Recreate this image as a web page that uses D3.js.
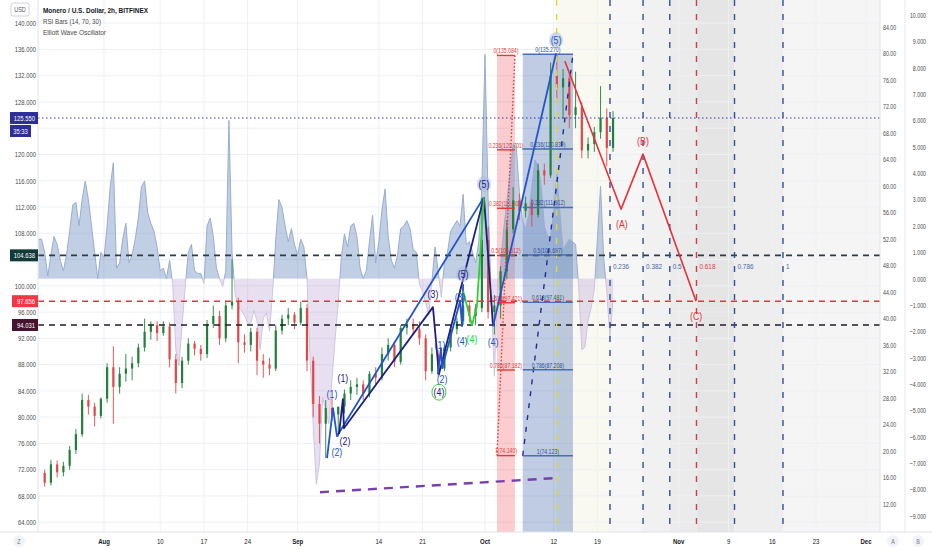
<!DOCTYPE html>
<html><head><meta charset="utf-8">
<script src="https://cdn.jsdelivr.net/npm/d3@7"></script>
<style>
html,body{margin:0;padding:0;background:#fff;}
svg{display:block;font-family:"Liberation Sans",Arial,sans-serif;}
</style></head><body>
<svg id="c" width="932" height="550"></svg>
<script>
// ---------------- DATA ----------------
const candles = [
["2020-07-22",71.5,72.0,69.4,70.0],["2020-07-23",70.0,73.5,69.6,72.8],["2020-07-24",72.8,73.4,70.8,71.6],
["2020-07-25",71.6,73.2,71.0,72.6],["2020-07-26",72.6,75.6,72.0,75.0],["2020-07-27",75.0,78.2,74.4,77.4],
["2020-07-28",77.4,83.6,77.0,82.6],["2020-07-29",82.6,83.4,80.4,81.6],["2020-07-30",81.6,82.2,78.6,80.2],
["2020-07-31",80.2,83.0,79.8,82.8],["2020-08-01",82.8,88.2,82.2,87.6],["2020-08-02",87.6,90.8,79.0,84.6],
["2020-08-03",84.6,87.6,83.6,86.6],["2020-08-04",86.6,89.6,85.4,87.4],["2020-08-05",87.4,89.2,85.6,88.2],
["2020-08-06",88.2,91.2,87.6,90.6],["2020-08-07",90.6,95.0,90.0,93.0],["2020-08-08",93.0,94.6,91.8,94.0],
["2020-08-09",94.0,94.6,91.6,92.8],["2020-08-10",92.8,94.6,92.4,93.8],["2020-08-11",93.8,94.4,87.6,88.8],
["2020-08-12",88.8,89.6,83.6,85.2],["2020-08-13",85.2,89.2,84.4,88.6],["2020-08-14",88.6,92.0,88.0,91.2],
["2020-08-15",91.2,91.6,89.4,90.4],["2020-08-16",90.4,91.0,88.6,89.6],["2020-08-17",89.6,94.8,89.0,94.2],
["2020-08-18",94.2,97.0,93.6,95.4],["2020-08-19",95.4,96.2,91.0,92.0],["2020-08-20",92.0,97.6,91.4,97.0],
["2020-08-21",97.0,104.0,96.4,97.6],["2020-08-22",97.6,98.2,88.2,91.4],["2020-08-23",91.4,92.6,89.8,91.0],
["2020-08-24",91.0,93.6,90.0,93.0],["2020-08-25",93.0,93.6,86.4,88.6],["2020-08-26",88.6,89.6,86.0,88.0],
["2020-08-27",88.0,89.0,86.4,87.4],["2020-08-28",87.4,94.0,87.0,93.2],["2020-08-29",93.2,95.6,92.6,95.0],
["2020-08-30",95.0,96.6,94.0,95.6],["2020-08-31",95.6,96.0,93.4,94.4],["2020-09-01",94.4,97.6,94.0,96.6],
["2020-09-02",96.6,97.2,87.0,88.6],["2020-09-03",88.6,89.2,80.0,82.0],["2020-09-04",82.0,83.2,76.0,79.0],
["2020-09-05",79.0,82.6,73.8,81.4],["2020-09-06",81.4,83.0,79.4,80.4],["2020-09-07",80.4,81.2,77.0,81.6],
["2020-09-08",81.6,84.2,80.6,83.6],["2020-09-09",83.6,85.6,82.6,84.6],["2020-09-10",84.6,86.0,83.4,85.0],
["2020-09-11",85.0,85.6,82.6,83.6],["2020-09-12",83.6,87.0,83.0,86.6],["2020-09-13",86.6,87.6,85.0,86.0],
["2020-09-14",86.0,90.6,85.6,89.6],["2020-09-15",89.6,92.0,88.6,91.0],["2020-09-16",91.0,91.6,87.6,88.4],
["2020-09-17",88.4,94.0,88.0,93.6],["2020-09-18",93.6,95.0,92.6,94.2],["2020-09-19",94.2,95.0,92.6,93.4],
["2020-09-20",93.4,94.6,91.0,92.0],["2020-09-21",92.0,92.6,85.6,87.0],["2020-09-22",87.0,90.6,86.6,89.6],
["2020-09-23",89.6,90.2,86.2,87.4],["2020-09-24",87.4,91.0,87.0,90.6],["2020-09-25",90.6,94.0,90.0,93.4],
["2020-09-26",93.4,95.2,92.6,94.6],["2020-09-27",94.6,98.2,94.0,97.0],["2020-09-28",97.0,97.6,94.4,95.4],
["2020-09-29",95.4,97.2,94.0,96.6],["2020-09-30",96.6,113.4,96.0,107.0],["2020-10-01",107.0,109.0,95.0,96.0],
["2020-10-02",96.0,98.6,92.6,97.0],["2020-10-03",97.0,103.0,95.0,102.2],["2020-10-04",102.2,110.0,101.0,108.6],
["2020-10-05",108.6,115.0,108.0,113.0],["2020-10-06",113.0,114.0,110.0,111.4],["2020-10-07",111.4,113.6,110.4,112.6],
["2020-10-08",112.6,113.2,109.0,110.8],["2020-10-09",110.8,118.6,110.4,117.6],["2020-10-10",117.6,118.6,115.4,116.8],
["2020-10-11",116.8,134.0,116.4,132.0],["2020-10-12",132.0,135.3,128.4,130.2],["2020-10-13",130.2,133.0,125.4,131.6],
["2020-10-14",131.6,132.2,124.0,126.0],["2020-10-15",126.0,132.6,124.0,127.2],["2020-10-16",127.2,128.0,119.4,120.6],
["2020-10-17",120.6,122.6,119.4,121.6],["2020-10-18",121.6,124.2,120.4,123.4],["2020-10-19",123.4,130.4,122.4,125.6],
["2020-10-20",125.6,127.0,118.2,121.0],["2020-10-21",121.0,126.6,120.4,125.55]
];

// Elliott Wave Oscillator, sampled every 12 hours from ewoStart
const ewoStart = "2020-07-21T12:00";
const ewoStepHours = 12;
const ewoValues = [
1.5,1.5,1.0,0.1,0.9,1.6,1.3,0.7,0.3,0.9,1.8,2.8,2.9,2.0,3.0,3.7,3.0,2.0,1.0,0.0,1.0,
0.8,2.0,3.5,4.4,0.4,0.6,1.5,2.1,0.6,0.9,1.5,2.3,3.5,3.7,2.5,2.1,1.8,1.2,0.3,0.4,
0.0,0.7,-0.2,-2.7,-3.3,-1.8,-0.3,1.0,1.3,0.3,0.2,0.2,-0.2,2.0,2.3,1.6,0.4,0.0,-0.3,0.3,
6.0,1.0,-0.6,-1.1,-1.2,-1.4,-1.7,-1.7,-1.2,-1.6,-2.7,-1.5,-1.3,-2.0,-0.5,1.5,3.0,2.7,2.0,1.4,
1.9,1.3,0.9,1.5,1.2,0.0,-3.1,-5.6,-7.8,-7.0,-4.5,-5.0,-5.5,-3.8,-2.3,-0.9,0.8,1.7,1.2,2.0,
2.1,1.6,0.4,0.0,0.3,1.4,2.4,0.6,1.4,2.6,3.4,1.6,0.7,0.4,0.9,1.9,2.0,2.2,1.9,1.1,
1.0,-0.2,-0.5,-0.9,-1.4,-0.1,1.2,0.3,-0.7,0.6,1.0,1.8,2.0,2.2,2.0,3.2,1.3,1.4,1.0,0.6,
1.4,3.5,8.5,3.0,-0.8,-3.7,-0.6,0.5,1.9,2.9,4.0,5.1,5.0,3.3,2.2,1.9,2.4,3.5,4.5,4.3,
3.5,2.0,1.6,1.6,2.5,4.0,2.5,1.1,1.3,1.5,1.4,1.3,-0.3,-2.7,-2.6,-1.6,-1.1,-0.4,1.5,3.5,
0.8,-0.5,-2.2,-0.8
];

const priceTicks = [140,136,132,128,124,120,116,112,108,104,100,96,92,88,84,80,76,72,68,64];
const axisATicks = [84,80,76,72,68,64,60,56,52,48,44,40,36,32,28,24,20,16,12];
const axisBTicks = [10,9,8,7,6,5,4,3,2,1,0,-1,-2,-3,-4,-5,-6,-7,-8,-9];
const timeTicks = [
["2020-08-01","Aug",true],["2020-08-10","10",false],["2020-08-17","17",false],["2020-08-24","24",false],
["2020-09-01","Sep",true],["2020-09-14","14",false],["2020-09-21","21",false],["2020-10-01","Oct",true],
["2020-10-12","12",false],["2020-10-19","19",false],["2020-11-01","Nov",true],["2020-11-09","9",false],
["2020-11-16","16",false],["2020-11-23","23",false],["2020-12-01","Dec",true]
];

const lastPrice = 125.55;
const countdown = "35:33";
const levelSupport = 104.638, levelRed = 97.656, levelDark = 94.031;

const fibRatios = [0,0.236,0.382,0.5,0.618,0.786,1];
const redFib = {t1:"2020-10-02T22:00", p1:74.140, t2:"2020-10-05T19:00", p2:135.084};
const blueFib = {t1:"2020-10-07T01:00", p1:74.123, t2:"2020-10-15T02:00", p2:135.270};
const fibTimeStart = "2020-10-12T11:00", fibTimeEnd = "2020-11-17T17:00";
const fibTimeLabelPrice = 103.0;

const waveBlueA = [["2020-09-05T17:00",73.75],["2020-09-06T16:00",81.36],["2020-09-07T07:00",77.1],["2020-09-30T20:00",113.5]];
const waveNavyDown = [["2020-09-30T20:00",113.5],["2020-10-02T07:00",93.85]];
const waveBlueUp = [["2020-10-02T07:00",93.85],["2020-10-12T09:00",135.4]];
const waveNavy = [["2020-09-07T15:00",77.4],["2020-09-08T06:00",82.74],["2020-09-08T10:00",78.3],["2020-09-22T16:00",96.75],["2020-09-23T15:00",86.54],["2020-09-30T20:00",113.5]];
const waveBlueSmall = [["2020-09-23T11:00",86.54],["2020-09-23T23:00",90.5],["2020-09-24T03:00",87.46],["2020-09-27T00:00",97.66],["2020-09-27T08:00",93.85],["2020-09-27T12:00",100.25]];
const waveGreen = [["2020-09-27T12:00",99.2],["2020-09-28T22:00",94.0],["2020-09-29T17:00",96.9],["2020-09-30T20:00",113.5]];
const waveRed = [["2020-10-13T19:00",134.2],["2020-10-22T19:00",111.67],["2020-10-26T07:00",120.05],["2020-11-03T19:00",97.656]];
const purpleTrend = [["2020-09-04T14:00",68.57],["2020-10-11T21:00",70.7]];

// [text, colourKey, time, price, marker]
const waveLabels = [
["(1)","blue","2020-09-06T12:00",83.5,""],["(2)","blue","2020-09-07T07:00",74.66,""],
["(1)","navy","2020-09-08T06:00",85.93,""],["(2)","navy","2020-09-08T14:00",76.34,""],
["(3)","navy","2020-09-22T16:00",98.73,""],["(4)","navy","2020-09-23T15:00",83.8,"ring"],
["(1)","blue","2020-09-23T19:00",90.96,""],["(2)","blue","2020-09-24T03:00",85.78,""],
["(3)","blue","2020-09-27T00:00",98.27,""],["(5)","navy","2020-09-27T12:00",101.77,"dot"],
["(4)","blue","2020-09-27T08:00",91.57,""],["(4)","green","2020-09-28T22:00",91.87,""],
["(5)","navy","2020-09-30T20:00",115.48,"dot"],["(4)","blue","2020-10-02T07:00",91.42,""],
["(5)","blue","2020-10-12T09:00",137.4,"dot"],
["(A)","red","2020-10-22T22:00",109.39,""],["(B)","red","2020-10-26T07:00",122.03,""],["(C)","red","2020-11-03T19:00",95.38,""]
];

// ---------------- SETUP ----------------
const P = s => new Date(s.length === 10 ? s + "T00:00:00Z" : s + ":00Z");
const L = 38, R = 880, TOP = 0, BOT = 532;
const x = d3.scaleUtc().domain([new Date(Date.UTC(2020,6,21,10,24)), new Date(Date.UTC(2020,11,3,5,48))]).range([L,R]);
const y = d3.scaleLinear().domain([62.51,143.52]).range([BOT,TOP]);
const yA = d3.scaleLinear().domain([7.77,88.08]).range([BOT,TOP]);
const yB = d3.scaleLinear().domain([-9.61,10.57]).range([BOT,TOP]);

const C = {blue:"#2356cc", navy:"#1e2080", green:"#2fd12f", red:"#e8313a"};
const svg = d3.select("#c");
const defs = svg.append("defs");
defs.append("clipPath").attr("id","plot").append("rect").attr("x",L).attr("y",TOP).attr("width",R-L).attr("height",BOT-TOP);
defs.append("clipPath").attr("id","pos").append("rect").attr("x",L).attr("y",TOP).attr("width",R-L).attr("height",yB(0)-TOP);
defs.append("clipPath").attr("id","neg").append("rect").attr("x",L).attr("y",yB(0)).attr("width",R-L).attr("height",BOT-yB(0));

function T(parent, tx, ty, str, o={}) {
  const t = parent.append("text").attr("transform",`translate(${tx},${ty}) scale(${o.sx ?? 0.78},1)`)
    .attr("text-anchor", o.anchor || "start").attr("dominant-baseline","central")
    .attr("font-size", o.size || 7.5).attr("fill", o.fill || "#131722").text(str);
  if (o.weight) t.attr("font-weight", o.weight);
  return t;
}

svg.append("rect").attr("width",932).attr("height",550).attr("fill","#fff");
const pg = svg.append("g").attr("clip-path","url(#plot)");

// fib time zone bands
const ft0 = P(fibTimeStart), ft1 = P(fibTimeEnd);
const ftAt = r => new Date(+ft0 + r*(ft1-ft0));
const bandColors = ["#f9f9f2","#f6f6f6","#f1f1f1","#ebebeb","#e5e5e5","#eeeeee","#f5f5f5"];
const bandEdges = fibRatios.map(ftAt).concat([x.domain()[1]]);
for (let i=0;i<bandEdges.length-1;i++){
  pg.append("rect").attr("x",x(bandEdges[i])).attr("y",TOP).attr("width",x(bandEdges[i+1])-x(bandEdges[i])).attr("height",BOT-TOP).attr("fill",bandColors[i]);
}

// grid
pg.selectAll(".hg").data(priceTicks).join("line").attr("x1",L).attr("x2",R).attr("y1",d=>y(d)).attr("y2",d=>y(d)).attr("stroke","#eef0f5").attr("stroke-width",1);
pg.selectAll(".vg").data(timeTicks).join("line").attr("x1",d=>x(P(d[0]))).attr("x2",d=>x(P(d[0]))).attr("y1",TOP).attr("y2",BOT).attr("stroke","#eef0f5").attr("stroke-width",1);

// fib boxes
function fibBox(f, fill){
  const x1 = x(P(f.t1)), x2 = x(P(f.t2));
  pg.append("rect").attr("x",x1).attr("y",y(f.p2)).attr("width",x2-x1).attr("height",BOT-y(f.p2)).attr("fill",fill);
}
fibBox(redFib,"rgba(242,70,80,0.27)");
fibBox(blueFib,"rgba(60,100,170,0.33)");

// EWO
const ewo = ewoValues.map((v,i)=>({t:new Date(+P(ewoStart)+i*ewoStepHours*3600e3), v}));
const ewoArea = d3.area().x(d=>x(d.t)).y0(yB(0)).y1(d=>yB(d.v));
const ewoLine = d3.line().x(d=>x(d.t)).y(d=>yB(d.v));
pg.append("path").attr("d",ewoArea(ewo)).attr("fill","rgba(100,135,190,0.40)").attr("clip-path","url(#pos)");
pg.append("path").attr("d",ewoLine(ewo)).attr("fill","none").attr("stroke","#98add1").attr("stroke-width",1).attr("clip-path","url(#pos)");
pg.append("path").attr("d",ewoArea(ewo)).attr("fill","rgba(150,115,190,0.22)").attr("clip-path","url(#neg)");
pg.append("path").attr("d",ewoLine(ewo)).attr("fill","none").attr("stroke","#cfc4e0").attr("stroke-width",1).attr("clip-path","url(#neg)");

// candles
const UP="#23803a", DN="#e04848";
const cg = pg.append("g");
candles.forEach(([d,o,h,l,c])=>{
  const t0 = P(d), tm = new Date(+t0+432e5);
  const cx = x(tm), bw = 2.2;
  const col = c>=o?UP:DN;
  cg.append("line").attr("x1",cx).attr("x2",cx).attr("y1",y(h)).attr("y2",y(l)).attr("stroke",col).attr("stroke-width",0.9);
  cg.append("rect").attr("x",cx-bw/2).attr("y",y(Math.max(o,c))).attr("width",bw).attr("height",Math.max(1,Math.abs(y(o)-y(c)))).attr("fill",col);
});

// horizontal levels
function hline(v,col,w,dash){ pg.append("line").attr("x1",L).attr("x2",R).attr("y1",y(v)).attr("y2",y(v)).attr("stroke",col).attr("stroke-width",w).attr("stroke-dasharray",dash); }
hline(lastPrice,"#3a3aa0",1.2,"1.5,2.5");
hline(levelSupport,"#2f3b45",1.7,"6,5");
hline(levelRed,"#e8333a",1.6,"6,5");
hline(levelDark,"#1e1e28",1.4,"6,5");

// fib time verticals
fibRatios.forEach(r=>{
  const xx = x(ftAt(r));
  const col = r===0 ? "#d9d93a" : (r===0.618 ? "#c8404a" : "#2d4f9e");
  pg.append("line").attr("x1",xx).attr("x2",xx).attr("y1",TOP).attr("y2",BOT).attr("stroke",col).attr("stroke-width",1.4).attr("stroke-dasharray","6,8");
  if (r>0) T(pg, xx+3, y(fibTimeLabelPrice), String(r), {size:8, sx:0.8, fill: r===0.618?"#d04848":"#4a68a8"});
});

// fib retracements
function fib(f, lineCol, txtCol, trendDash, trendCol){
  const x1 = x(P(f.t1)), x2 = x(P(f.t2)), xm=(x1+x2)/2;
  pg.append("line").attr("x1",x1).attr("y1",y(f.p1)).attr("x2",x2).attr("y2",y(f.p2)).attr("stroke",trendCol).attr("stroke-width",1.4).attr("stroke-dasharray",trendDash);
  fibRatios.forEach(r=>{
    const p = f.p2 - r*(f.p2-f.p1);
    pg.append("line").attr("x1",x1).attr("x2",x2).attr("y1",y(p)).attr("y2",y(p)).attr("stroke",lineCol).attr("stroke-width",1.4);
    T(pg, xm, y(p)-5, `${r}(${p.toFixed(3)})`, {size:7, sx:0.74, anchor:"middle", fill:txtCol});
  });
}
fib(redFib,"#e53935","#e53935","1.5,2","#e53935");
fib(blueFib,"#4a6db5","#2f4f9a","5,7","#1f2f8f");

// waves
const wl = d3.line().x(d=>x(P(d[0]))).y(d=>y(d[1]));
function wave(pts,col,w,dash){ const p=pg.append("path").attr("d",wl(pts)).attr("fill","none").attr("stroke",col).attr("stroke-width",w).attr("stroke-linejoin","round"); if(dash)p.attr("stroke-dasharray",dash); }
wave(purpleTrend,"#7a3fae",2.4,"9,7");
wave(waveBlueA,C.blue,1.8);
wave(waveNavy,C.navy,1.8);
wave(waveNavyDown,C.navy,1.8);
wave(waveBlueUp,C.blue,1.8);
wave(waveBlueSmall,C.blue,1.8);
wave(waveGreen,C.green,1.8);
wave(waveRed,C.red,1.6);

waveLabels.forEach(([t,ck,d,v,m])=>{
  const xx=x(P(d)), yy=y(v);
  if (m==="dot") pg.append("ellipse").attr("cx",xx).attr("cy",yy).attr("rx",7).attr("ry",8).attr("fill","rgba(170,185,225,0.55)");
  if (m==="ring") pg.append("ellipse").attr("cx",xx).attr("cy",yy).attr("rx",7).attr("ry",8).attr("fill","none").attr("stroke","#3ad13a").attr("stroke-width",1);
  T(pg, xx, yy, t, {size:11, sx:0.8, anchor:"middle", fill:C[ck]});
});

// ---------------- AXES ----------------
const tags = [
  {v:lastPrice, txt:lastPrice.toFixed(3), fill:"#2e2e98", x0:10},
  {v:levelSupport, txt:levelSupport.toFixed(3), fill:"#113a38", x0:10},
  {v:levelRed, txt:levelRed.toFixed(3), fill:"#f23645", x0:12},
  {v:levelDark, txt:levelDark.toFixed(3), fill:"#45132d", x0:12}
];
// left
svg.append("rect").attr("x",0).attr("y",0).attr("width",L).attr("height",550).attr("fill","#fff");
svg.append("line").attr("x1",L).attr("x2",L).attr("y1",0).attr("y2",BOT).attr("stroke","#e0e3eb");
const hiddenBy = v => tags.some(t=>Math.abs(y(t.v)-y(v))<8) || (y(v)-y(lastPrice)>6 && y(v)-y(lastPrice)<20);
priceTicks.filter(v=>!hiddenBy(v)).forEach(v=>T(svg, 36, y(v), v.toFixed(3), {anchor:"end", fill:"#4a4a4a"}));
svg.append("rect").attr("x",11).attr("y",3).attr("width",18).attr("height",13).attr("rx",2).attr("fill","#fff").attr("stroke","#d0d3da");
T(svg, 20, 9.5, "USD", {anchor:"middle", size:7, fill:"#555"});
tags.forEach(t=>{
  const cy = y(t.v);
  svg.append("rect").attr("x",t.x0).attr("y",cy-6).attr("width",L-t.x0).attr("height",12).attr("fill",t.fill);
  T(svg, 35, cy, t.txt, {anchor:"end", fill:"#fff"});
});
svg.append("rect").attr("x",10).attr("y",y(lastPrice)+7).attr("width",21).attr("height",12).attr("fill","#2e2e98");
T(svg, 20.5, y(lastPrice)+13, countdown, {anchor:"middle", fill:"#fff"});

// right
svg.append("rect").attr("x",R).attr("y",0).attr("width",932-R).attr("height",550).attr("fill","#fff");
svg.append("line").attr("x1",R).attr("x2",R).attr("y1",0).attr("y2",BOT).attr("stroke","#e0e3eb");
svg.append("line").attr("x1",905).attr("x2",905).attr("y1",0).attr("y2",550).attr("stroke","#e6e8ee");
axisATicks.forEach(v=>T(svg, 883, yA(v), v.toFixed(2), {fill:"#4a4a4a", sx:0.7}));
axisBTicks.forEach(v=>T(svg, 926, yB(v), (v<0?"\u2212":"")+Math.abs(v).toFixed(3), {anchor:"end", fill:"#4a4a4a", sx:0.7}));

// bottom
svg.append("rect").attr("x",0).attr("y",BOT).attr("width",932).attr("height",550-BOT).attr("fill","#fff");
svg.append("line").attr("x1",0).attr("x2",932).attr("y1",BOT).attr("y2",BOT).attr("stroke","#e0e3eb");
timeTicks.forEach(([d,lab,b])=>T(svg, x(P(d)), 541, lab, {anchor:"middle", weight: b?"700":null, size:8, sx:0.75}));
[[19,"Z"],[893,"A"],[918,"B"]].forEach(([cx,s])=>{
  svg.append("circle").attr("cx",cx).attr("cy",541).attr("r",6).attr("fill","#f0f3fa");
  T(svg, cx, 541, s, {anchor:"middle", size:7, fill:"#777"});
});

// legend
svg.append("text").attr("x",43).attr("y",13).attr("font-size",7.5).attr("font-weight",600).attr("fill","#131722").attr("textLength",105).attr("lengthAdjust","spacingAndGlyphs").text("Monero / U.S. Dollar, 2h, BITFINEX");
svg.append("text").attr("x",43).attr("y",24).attr("font-size",7.5).attr("fill","#4a4a4a").attr("textLength",58).attr("lengthAdjust","spacingAndGlyphs").text("RSI Bars (14, 70, 30)");
svg.append("text").attr("x",43).attr("y",35).attr("font-size",7.5).attr("fill","#4a4a4a").attr("textLength",63).attr("lengthAdjust","spacingAndGlyphs").text("Elliott Wave Oscillator");
</script>
</body></html>
